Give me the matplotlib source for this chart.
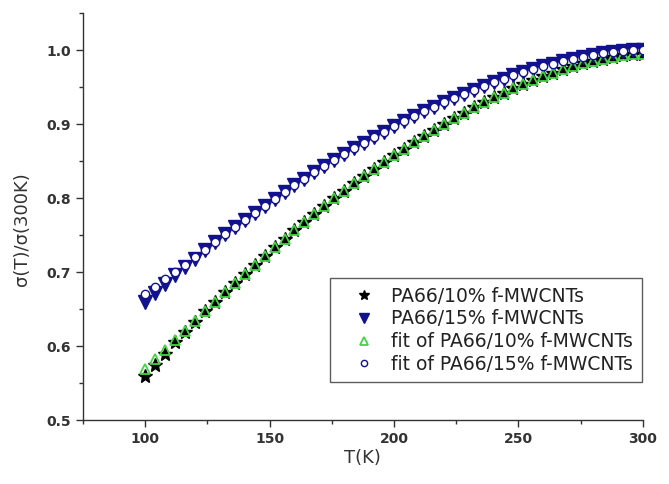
import matplotlib
matplotlib.use("Agg")
import matplotlib.pyplot as plt
from matplotlib.ticker import MultipleLocator

# temperature grid (K), one point every 4 K
temps = [100, 104, 108, 112, 116, 120, 124, 128, 132, 136,
         140, 144, 148, 152, 156, 160, 164, 168, 172, 176,
         180, 184, 188, 192, 196, 200, 204, 208, 212, 216,
         220, 224, 228, 232, 236, 240, 244, 248, 252, 256,
         260, 264, 268, 272, 276, 280, 284, 288, 292, 296, 300]

# measured sigma(T)/sigma(300K)
data_10 = [0.560, 0.575, 0.590, 0.605, 0.619, 0.633, 0.6468, 0.6597, 0.6725, 0.6851,
           0.6974, 0.7096, 0.7216, 0.7334, 0.7449, 0.7563, 0.7674, 0.7784, 0.7891, 0.7996,
           0.8099, 0.8200, 0.8298, 0.8394, 0.8488, 0.8580, 0.8669, 0.8756, 0.8840, 0.8922,
           0.9002, 0.9079, 0.9153, 0.9225, 0.9294, 0.9360, 0.9424, 0.9484, 0.9542, 0.9596,
           0.9648, 0.9696, 0.9741, 0.9782, 0.9820, 0.9854, 0.9883, 0.9909, 0.9929, 0.9943, 0.9950]
data_15 = [0.660, 0.672, 0.684, 0.696, 0.707, 0.718, 0.7304, 0.7408, 0.7509, 0.7609,
           0.7708, 0.7804, 0.7899, 0.7992, 0.8083, 0.8173, 0.8261, 0.8347, 0.8431, 0.8514,
           0.8594, 0.8673, 0.8750, 0.8825, 0.8898, 0.8969, 0.9038, 0.9105, 0.9170, 0.9233,
           0.9294, 0.9353, 0.9410, 0.9465, 0.9517, 0.9567, 0.9615, 0.9661, 0.9704, 0.9745,
           0.9783, 0.9818, 0.9851, 0.9882, 0.9909, 0.9933, 0.9954, 0.9972, 0.9986, 0.9996, 1.0000]

# fitted curves
fit_10 = [0.569, 0.582, 0.595, 0.608, 0.621, 0.634, 0.6468, 0.6597, 0.6725, 0.6851,
          0.6974, 0.7096, 0.7216, 0.7334, 0.7449, 0.7563, 0.7674, 0.7784, 0.7891, 0.7996,
          0.8099, 0.8200, 0.8298, 0.8394, 0.8488, 0.8580, 0.8669, 0.8756, 0.8840, 0.8922,
          0.9002, 0.9079, 0.9153, 0.9225, 0.9294, 0.9360, 0.9424, 0.9484, 0.9542, 0.9596,
          0.9648, 0.9696, 0.9741, 0.9782, 0.9820, 0.9854, 0.9883, 0.9909, 0.9929, 0.9943, 0.9950]
fit_15 = [0.670, 0.680, 0.690, 0.700, 0.710, 0.720, 0.7304, 0.7408, 0.7509, 0.7609,
          0.7708, 0.7804, 0.7899, 0.7992, 0.8083, 0.8173, 0.8261, 0.8347, 0.8431, 0.8514,
          0.8594, 0.8673, 0.8750, 0.8825, 0.8898, 0.8969, 0.9038, 0.9105, 0.9170, 0.9233,
          0.9294, 0.9353, 0.9410, 0.9465, 0.9517, 0.9567, 0.9615, 0.9661, 0.9704, 0.9745,
          0.9783, 0.9818, 0.9851, 0.9882, 0.9909, 0.9933, 0.9954, 0.9972, 0.9986, 0.9996, 1.0000]

labels = ["PA66/10% f-MWCNTs", "PA66/15% f-MWCNTs",
          "fit of PA66/10% f-MWCNTs", "fit of PA66/15% f-MWCNTs"]

navy = "#12128e"
green = "#44d444"
grey = "#333333"

fig = plt.figure(figsize=(6.69, 4.84), dpi=100)
ax = fig.add_axes([0.124, 0.132, 0.837, 0.841])

ax.plot(temps, data_10, ls="none", marker="*", ms=10, color="black", label=labels[0])
ax.plot(temps, data_15, ls="none", marker="v", ms=9.5, color=navy, label=labels[1])
ax.plot(temps, fit_10, ls="none", marker="^", ms=7, mfc="none", mec=green, mew=1.3, label=labels[2])
ax.plot(temps, fit_15, ls="none", marker="o", ms=6, mfc="white", mec=navy, mew=1.0, label=labels[3])

ax.set_xlim(75, 300)
ax.set_ylim(0.5, 1.05)
ax.set_xticks([100, 150, 200, 250, 300])
ax.xaxis.set_minor_locator(MultipleLocator(25))
ax.set_yticks([0.5, 0.6, 0.7, 0.8, 0.9, 1.0])
ax.yaxis.set_minor_locator(MultipleLocator(0.05))

for side in ["top", "right"]:
    ax.spines[side].set_visible(False)
for side in ["left", "bottom"]:
    ax.spines[side].set_color(grey)
    ax.spines[side].set_linewidth(1.0)

ax.tick_params(which="both", direction="out", color=grey, width=1.0)
ax.tick_params(which="major", length=5, labelsize=10, labelcolor=grey)
ax.tick_params(which="minor", length=3)
for lbl in ax.get_xticklabels() + ax.get_yticklabels():
    lbl.set_fontweight("bold")

ax.set_xlabel("T(K)", fontsize=13, color=grey)
ax.set_ylabel("σ(T)/σ(300K)", fontsize=13, color=grey)
ax.xaxis.set_label_coords(0.5, -0.07)
ax.yaxis.set_label_coords(-0.092, 0.47)

leg = ax.legend(loc="lower right", bbox_to_anchor=(0.998, 0.093), fontsize=13.5,
                frameon=True, fancybox=False, edgecolor=grey, borderaxespad=0,
                handlelength=2.8, handletextpad=0.05, labelspacing=0.2, borderpad=0.45,
                markerscale=0.75)
leg.get_frame().set_linewidth(1.0)
for t in leg.get_texts():
    t.set_color("#222222")

fig.savefig("out.png", dpi=100)
